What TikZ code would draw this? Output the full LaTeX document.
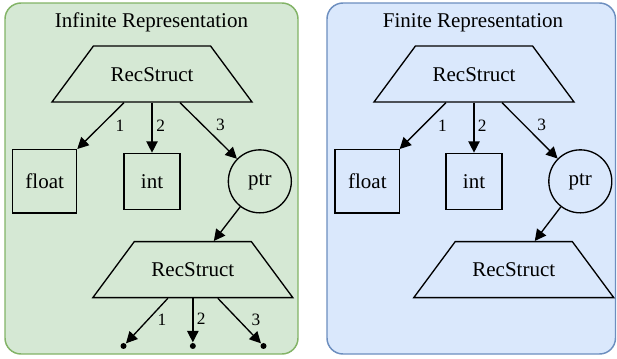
\documentclass[tikz,border=0pt]{standalone}
\usepackage{fontspec}
\setmainfont{Liberation Serif}
\usetikzlibrary{shapes.geometric, arrows.meta, positioning, backgrounds}

\definecolor{infill}{HTML}{D5E8D4}
\definecolor{indraw}{HTML}{82B366}
\definecolor{finfill}{HTML}{DAE8FC}
\definecolor{findraw}{HTML}{6C8EBF}

\begin{document}
\begin{tikzpicture}[
    x=0.75pt, y=-0.75pt,
    font=\fontsize{15.75pt}{18pt}\selectfont,
    >={Triangle[length=8.5pt, width=8.5pt]},
    line width=1pt,
    rec/.style={
        trapezium,
        trapezium stretches body,
        trapezium left angle=53.5,
        trapezium right angle=53.5,
        draw,
        text height=11pt,
        text depth=0pt,
        inner xsep=0pt,
        inner ysep=15.5pt,
        minimum width=150pt
    },
    field/.style={
        rectangle,
        draw,
        inner sep=0pt
    },
    pointer/.style={
        circle,
        draw,
        inner sep=0pt,
        minimum size=47.25pt
    },
    leaf/.style={
        circle,
        fill=black,
        inner sep=0pt,
        minimum size=4.5pt
    },
    num/.style={
        font=\fontsize{13pt}{15pt}\selectfont,
        inner sep=0pt
    },
    title/.style={
        anchor=base,
        inner sep=0pt
    },
    group/.style={
        line width=1.1pt,
        rounded corners=12pt
    }
]
\useasboundingbox (0,0) rectangle (617,358);

% Left cluster: unrolled recursion
\node[title] (titleA) at (151.5,27) {Infinite Representation};
\node[rec] (rsA) at (152,74) {RecStruct};
\node[field, minimum width=42pt, minimum height=42pt, below=37.5pt of rsA] (intA) {int};
\node[field, minimum width=48pt, minimum height=47.5pt, left=34.5pt of intA] (floatA) {float};
\node[pointer, right=35.25pt of intA] (ptrA) {ptr};
\node[rec, below=20.6pt of ptrA, xshift=-50.25pt] (rs2A) {RecStruct};
\node[leaf, below=33pt of rs2A] (d2A) {};
\node[leaf, left=46.5pt of d2A] (d1A) {};
\node[leaf, right=47.5pt of d2A] (d3A) {};

\draw[->] ([xshift=-21pt]rsA.south) -- (floatA) node[num, midway, xshift=14.5pt] {1};
\draw[->] (rsA.south) -- (intA) node[num, midway, xshift=6.5pt, yshift=1.5pt] {2};
\draw[->] ([xshift=21pt]rsA.south) -- (ptrA) node[num, midway, xshift=9pt, yshift=4.2pt] {3};
\draw[->] (ptrA) -- ([xshift=15.75pt]rs2A.north);
\draw[->] ([xshift=-18.75pt]rs2A.south) -- (d1A) node[num, midway, xshift=11.3pt, yshift=0.8pt] {1};
\draw[->] (rs2A.south) -- (d2A) node[num, midway, xshift=6.2pt, yshift=0.8pt] {2};
\draw[->] ([xshift=18.75pt]rs2A.south) -- (d3A) node[num, midway, xshift=12.5pt, yshift=0.8pt] {3};

% Right cluster: pointer closes the cycle
\node[title] (titleB) at (473,27) {Finite Representation};
\node[rec] (rsB) at (474,74) {RecStruct};
\node[field, minimum width=42pt, minimum height=42pt, below=37.5pt of rsB] (intB) {int};
\node[field, minimum width=48.5pt, minimum height=47.5pt, left=33.75pt of intB] (floatB) {float};
\node[pointer, right=34.1pt of intB] (ptrB) {ptr};
\node[rec, below=20.6pt of ptrB, xshift=-49.9pt] (rs2B) {RecStruct};

\draw[->] ([xshift=-21pt]rsB.south) -- (floatB) node[num, midway, xshift=14.8pt] {1};
\draw[->] (rsB.south) -- (intB) node[num, midway, xshift=6.2pt, yshift=1.5pt] {2};
\draw[->] ([xshift=21pt]rsB.south) -- (ptrB) node[num, midway, xshift=9pt, yshift=4.2pt] {3};
\draw[->] (ptrB) -- ([xshift=15.75pt]rs2B.north);

\begin{scope}[on background layer]
    \draw[group, draw=indraw, fill=infill] (5,3) rectangle (298,354);
    \draw[group, draw=findraw, fill=finfill] (327,3) rectangle (615.5,354);
\end{scope}

\end{tikzpicture}
\end{document}
